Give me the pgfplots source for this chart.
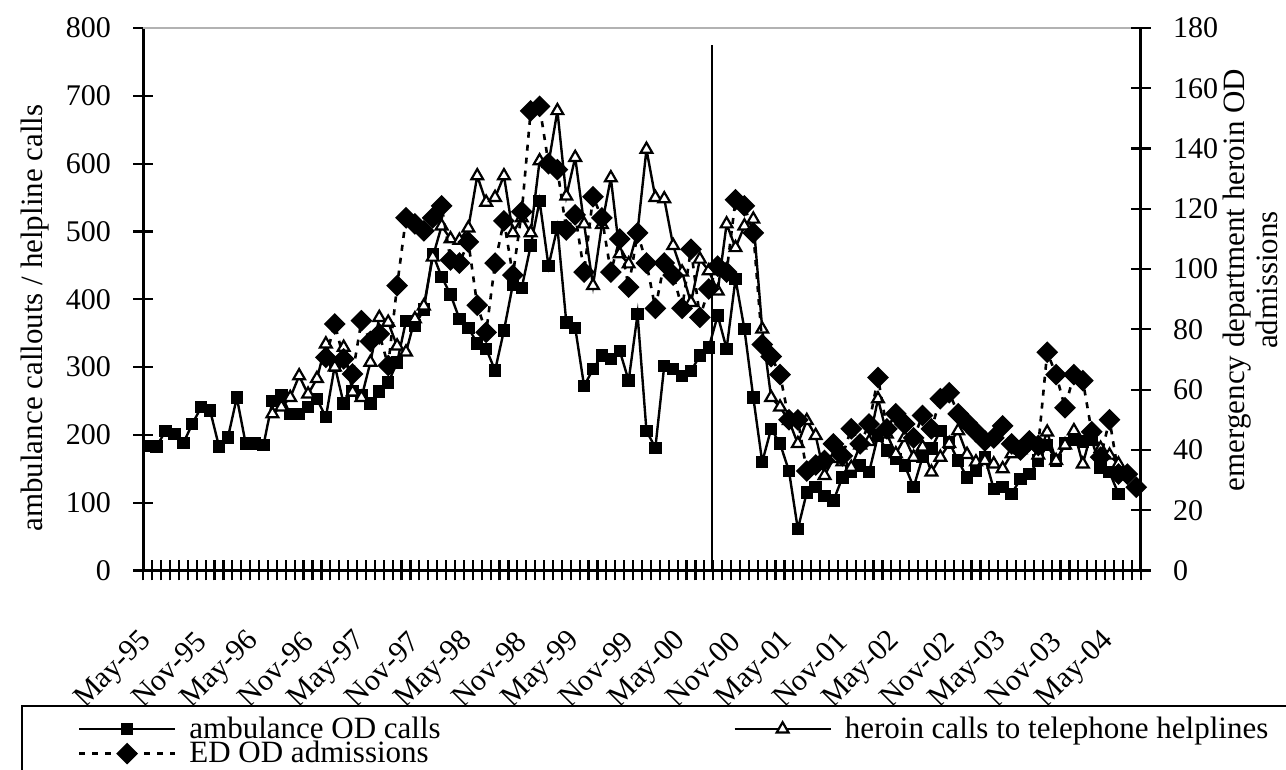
\documentclass[border=0pt]{standalone}
\usepackage{fontspec}
\setmainfont{Liberation Serif}
\usepackage{pgfplots}
\pgfplotsset{compat=1.18}

\pgfplotstableread{
idx amb
0 184
1 183
2 206
3 201
4 188
5 216
6 241
7 236
8 183
9 196
10 255
11 187
12 187
13 185
14 250
15 258
16 231
17 231
18 241
19 253
20 226
21 302
22 246
23 265
24 258
25 246
26 264
27 277
28 307
29 368
30 361
31 385
32 467
33 433
34 407
35 371
36 358
37 335
38 327
39 295
40 354
41 422
42 417
43 479
44 545
45 449
46 506
47 366
48 358
49 272
50 297
51 317
52 312
53 324
54 280
55 378
56 206
57 181
58 302
59 297
60 287
61 294
62 317
63 329
64 376
65 327
66 430
67 356
68 255
69 160
70 209
71 187
72 147
73 61
74 115
75 123
76 110
77 103
78 137
79 145
80 155
81 145
82 199
83 177
84 164
85 155
86 123
87 167
88 180
89 206
90 189
91 162
92 137
93 147
94 167
95 120
96 123
97 113
98 135
99 142
100 162
101 185
102 162
103 187
104 192
105 190
106 192
107 152
108 145
109 113
}\amb

\pgfplotstableread{
idx help
14 231
15 241
16 255
17 287
18 260
19 283
20 334
21 300
22 329
23 263
24 255
25 307
26 373
27 366
28 331
29 322
30 371
31 390
32 462
33 508
34 489
35 487
36 505
37 582
38 543
39 550
40 582
41 498
42 520
43 498
44 604
45 600
46 678
47 552
48 609
49 511
50 420
51 510
52 579
53 467
54 452
55 500
56 621
57 550
58 548
59 479
60 440
61 395
62 459
63 442
64 412
65 511
66 476
67 508
68 518
69 356
70 255
71 241
72 221
73 187
74 221
75 199
76 140
77 165
78 160
79 152
80 185
81 190
82 253
83 201
84 172
85 196
86 167
87 182
88 145
89 167
90 187
91 206
92 171
93 160
94 162
95 157
96 150
97 172
98 178
99 185
100 170
101 204
102 162
103 185
104 206
105 157
106 206
107 180
108 170
109 157
}\help

\pgfplotstableread{
idx ed
20 70.7
21 81.8
22 70.2
23 65.2
24 82.9
25 76
26 78.5
27 68
28 94.5
29 117
30 115
31 112.7
32 117
33 121
34 103
35 102
36 109
37 88
38 79
39 102
40 116
41 98
42 119
43 152.5
44 154
45 135
46 133
47 113
48 118
49 99
50 124
51 117
52 99
53 110
54 94
55 112
56 102
57 87
58 102
59 98
60 87
61 106.6
62 84
63 93.4
64 101
65 99
66 123
67 121
68 112
69 75
70 71
71 65
72 50
73 50
74 33
75 35
76 36.5
77 42
78 38
79 47
80 42
81 48.6
82 64
83 47
84 52
85 48.6
86 44
87 51.4
88 47
89 57
90 59
91 52
92 49
93 46
94 43
95 44
96 48
97 42
98 40
99 43
100 41.5
101 72.4
102 65
103 54
104 65
105 63
106 46
107 37.6
108 50
109 32
110 32
111 27.6
}\ed

\pgfplotsset{
  common/.style={
    width=498.7pt, height=271.25pt, scale only axis,
    xmin=-0.5, xmax=111.5,
    /pgf/number format/assume math mode=true,
    tick align=center,
    major tick length=10pt, minor tick length=10pt,
    every tick/.append style={black, line width=1.1pt},
    axis line style={black, line width=1.3pt, -},
    tick label style={font=\fontsize{15}{18}\selectfont},
    clip=false,
  },
  ambstyle/.style={black, line width=1.2pt, mark=square*, mark size=2.5pt, mark options={solid}},
  helpstyle/.style={black, line width=1.2pt, mark=triangle*, mark size=3.4pt, mark options={solid, fill=white, line width=1.1pt}},
  edstyle/.style={black, line width=1.3pt, dash pattern=on 3pt off 3.5pt, mark=square*, mark size=3.2pt, mark options={solid, rotate=45}},
}

\begin{document}
\begin{tikzpicture}[font=\fontsize{15.5}{18}\selectfont]
\begin{axis}[common,
  axis x line*=bottom, axis y line*=left,
  ymin=0, ymax=800, ytick={0,100,...,800},
  xtick={0,6,...,108},
  xticklabels={May-95,Nov-95,May-96,Nov-96,May-97,Nov-97,May-98,Nov-98,May-99,Nov-99,May-00,Nov-00,May-01,Nov-01,May-02,Nov-02,May-03,Nov-03,May-04},
  minor xtick={-0.5,0.5,...,111.5},
  every major x tick/.append style={draw=none},
  xticklabel style={rotate=45, anchor=east, inner sep=0pt},
  xticklabel shift=28pt,
  yticklabel style={anchor=east, inner sep=0pt},
  yticklabel shift=11pt,
  ylabel={ambulance callouts / helpline calls},
  every axis y label/.style={at={(axis description cs:-0.1086,0.4654)}, rotate=90, anchor=center},
]
\draw[gray!60, line width=1pt] (rel axis cs:0,1) -- (rel axis cs:1,1);
\addplot[ambstyle] table[x=idx, y=amb] {\amb};
\addplot[helpstyle] table[x=idx, y=help] {\help};
\draw[black, line width=0.9pt] (axis cs:63.4,0) -- (axis cs:63.4,775);
\end{axis}
\begin{axis}[common,
  axis x line=none, axis y line*=right,
  ymin=0, ymax=180, ytick={0,20,...,180},
  yticklabel style={anchor=west, inner sep=0pt},
  yticklabel shift=11pt,
  ylabel={emergency department heroin OD\\admissions},
  every axis y label/.style={at={(axis description cs:1.1096,0.5355)}, rotate=90, anchor=center, align=center, font=\fontsize{15.5}{16.5}\selectfont},
  legend columns=2,
  legend cell align=left,
  legend image code/.code={\draw[mark repeat=2,mark phase=2,#1] plot coordinates {(0pt,0pt) (24pt,0pt) (48pt,0pt)};},
  legend style={draw=black, line width=0.8pt,
    at={(axis description cs:-0.1226,-0.2479)}, anchor=north west,
    inner xsep=28pt, inner ysep=3.5pt, row sep=-4pt, column sep=0pt,
    font=\fontsize{15.5}{18}\selectfont},
]
\addlegendimage{ambstyle}
\addlegendentry{\hspace*{4.5pt}\makebox[270pt][l]{ambulance OD calls}}
\addlegendimage{helpstyle}
\addlegendentry{\hspace*{4.5pt}heroin calls to telephone helplines}
\addplot[edstyle] table[x=idx, y=ed] {\ed};
\addlegendentry{\hspace*{4.5pt}ED OD admissions}
\end{axis}
\pgfresetboundingbox
\path[use as bounding box] (-71.65pt,-99.75pt) rectangle (571.35pt,285.25pt);
\end{tikzpicture}
\end{document}
